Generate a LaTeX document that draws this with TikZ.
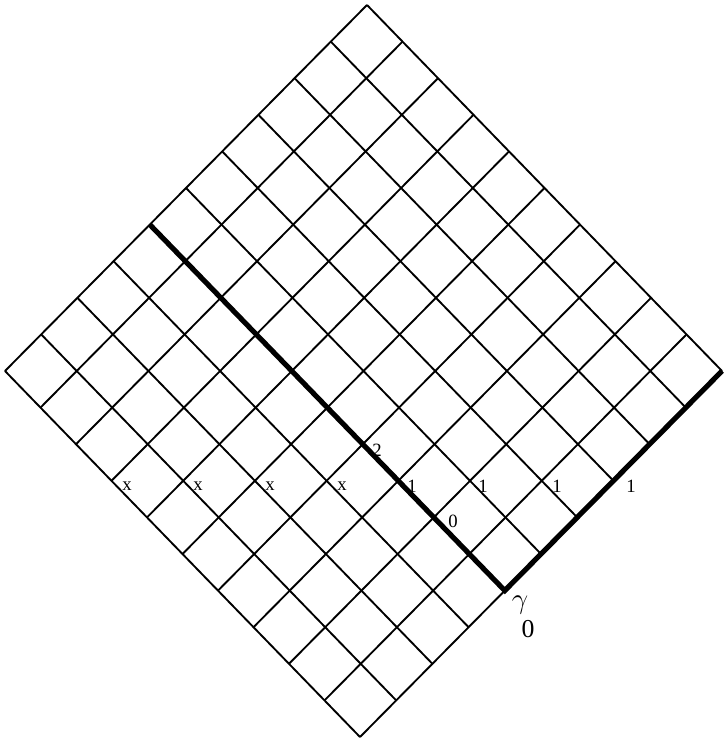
\documentclass[tikz,border=0pt]{standalone}
\usepackage{fontspec}
\setmainfont{Liberation Serif}
\begin{document}
\begin{tikzpicture}[x=0.03cm,y=-0.03cm,
  gridline/.style={line width=1.6pt,black},
  heavyline/.style={line width=4.4pt,black,line join=miter},
  lab/.style={inner sep=0pt,font=\fontsize{16}{18}\selectfont},
  biglab/.style={inner sep=0pt,font=\fontsize{22}{24}\selectfont},
  greeklab/.style={inner sep=0pt,font=\fontsize{28}{30}\selectfont}]
\useasboundingbox (0,0) rectangle (723,739);
\foreach \i in {0,...,10}{
  \foreach \j in {0,...,10}{
    \coordinate (p-\i-\j) at ({367+35.5*\i-36.2*\j},{5+36.6*(\i+\j)});
  }
}
\foreach \k in {0,...,10}{
  \draw[gridline] (p-0-\k) -- (p-10-\k);
  \draw[gridline] (p-\k-0) -- (p-\k-10);
}
\draw[heavyline] (p-0-6) -- (p-10-6) -- (p-10-0);
% labels
\node[lab] (x1) at (127,486) {x};
\node[lab] (x2) at (198,486) {x};
\node[lab] (x3) at (270,486) {x};
\node[lab] (x4) at (342,486) {x};
\node[lab] (o1) at (412,486) {1};
\node[lab] (o2) at (483,486) {1};
\node[lab] (o3) at (557,486) {1};
\node[lab] (o4) at (631,486) {1};
\node[lab] (two) at (377,450) {2};
\node[lab] (zero) at (453,521) {0};
\node[greeklab] (gam) at (520,605) {$\gamma$};
\node[biglab] (gamsub) at (528,629) {0};
\end{tikzpicture}
\end{document}
